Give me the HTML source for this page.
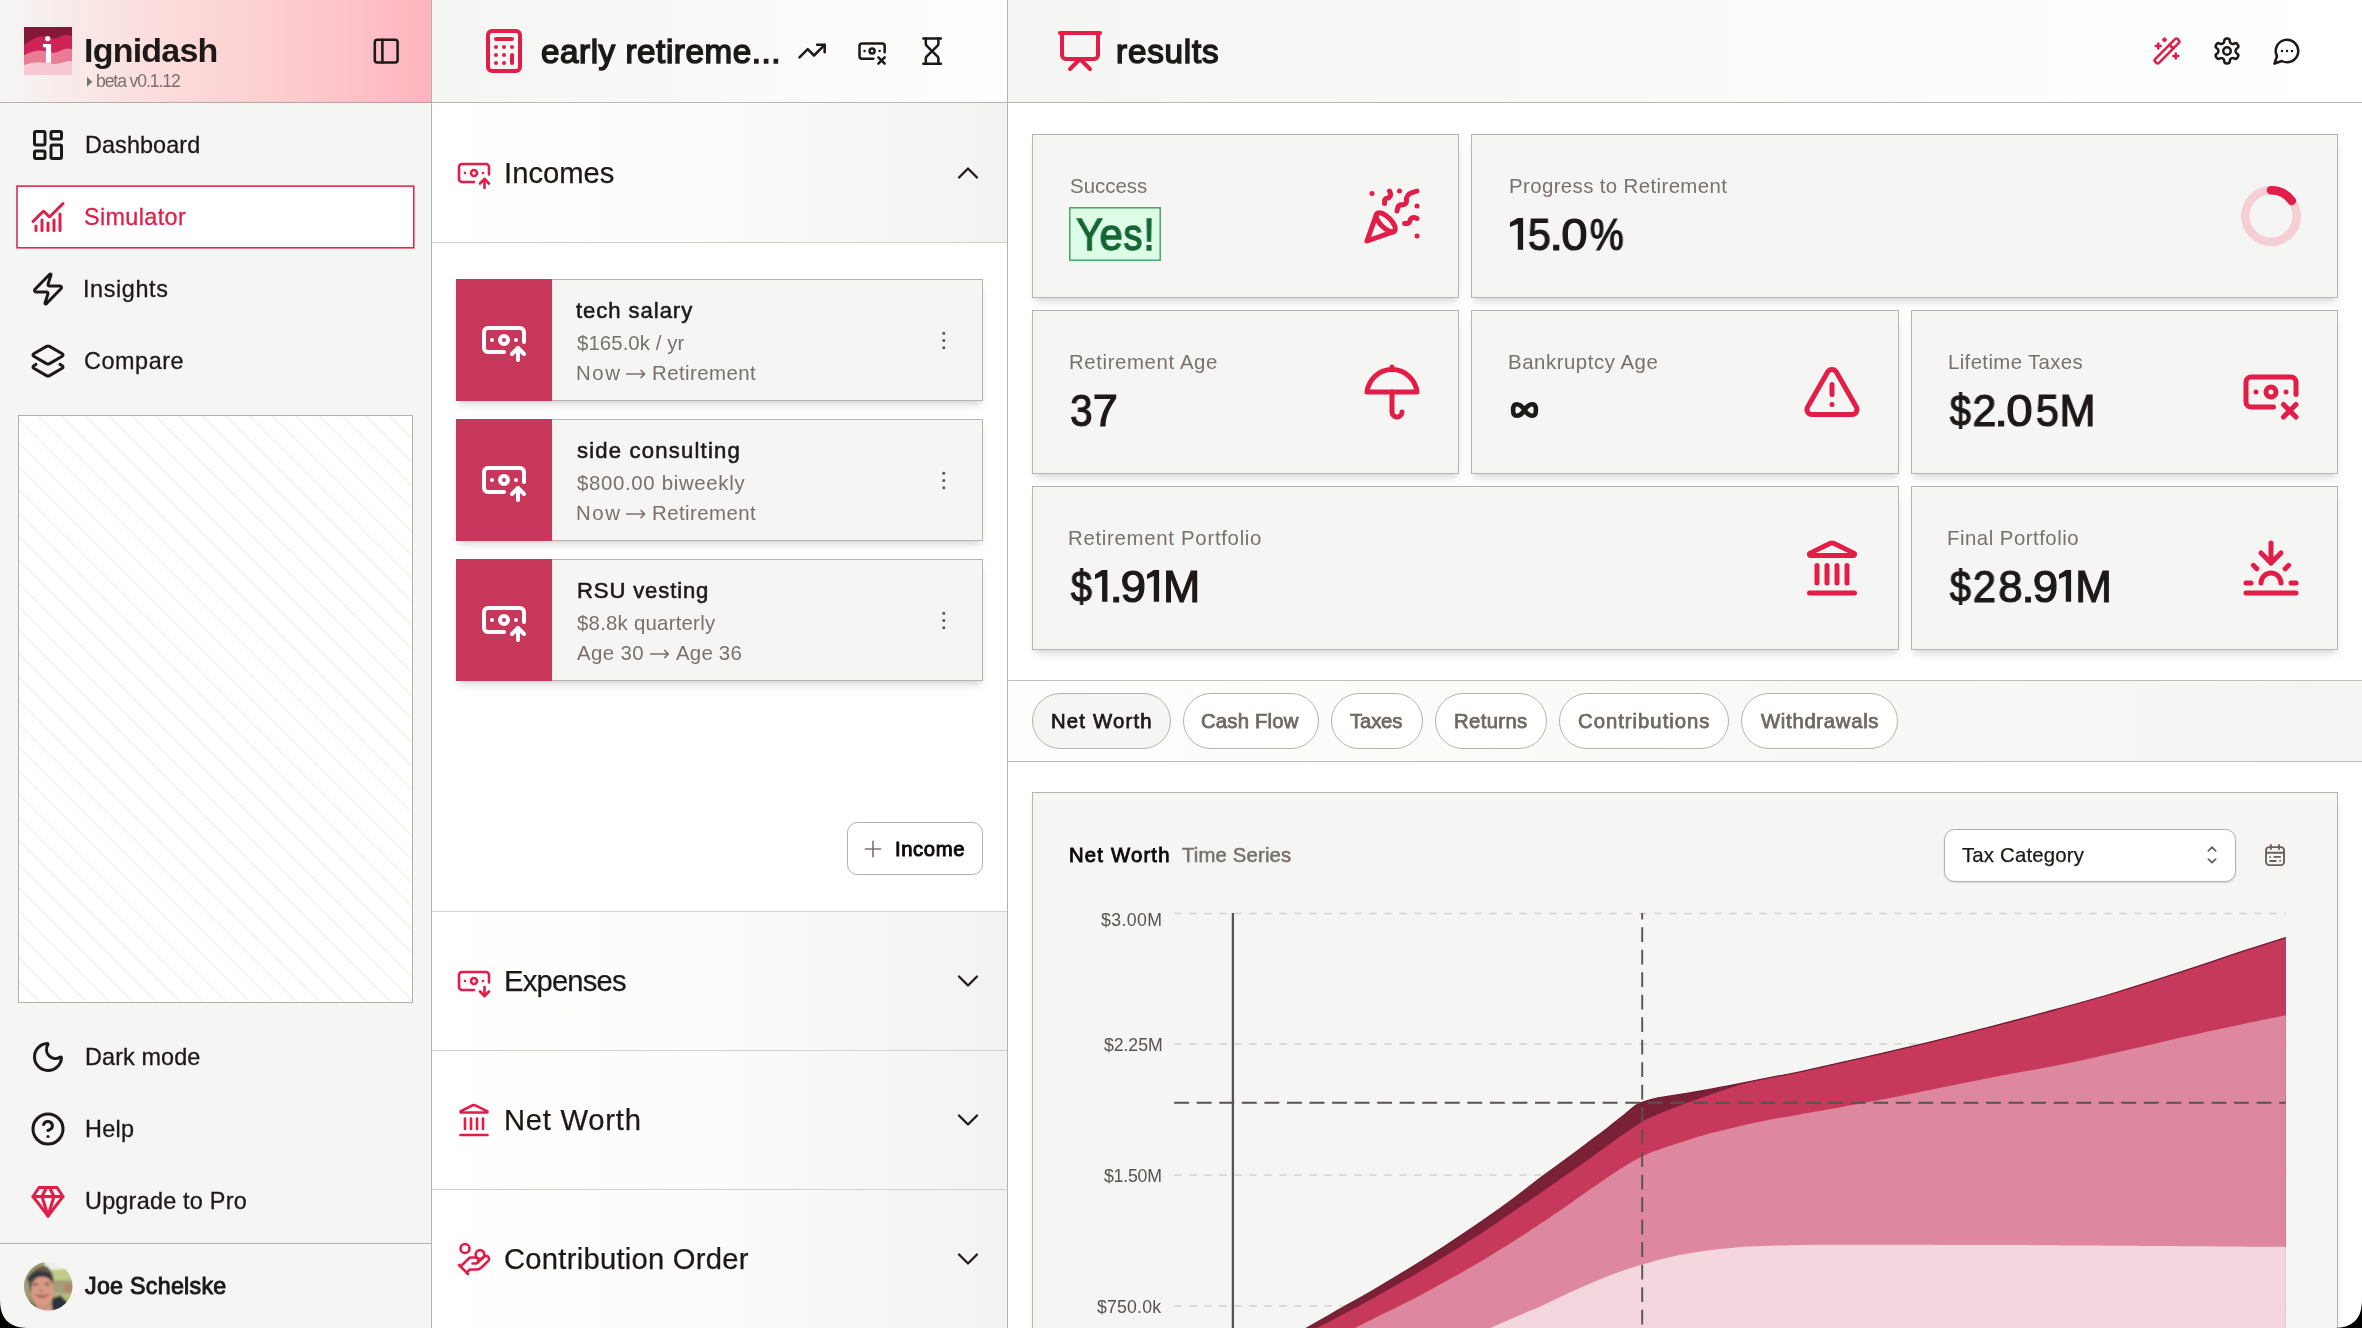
<!DOCTYPE html>
<html lang="en"><head><meta charset="utf-8"><title>Ignidash</title>
<style>
*{box-sizing:border-box;margin:0;padding:0}
html,body{width:2362px;height:1328px;overflow:hidden;background:#000}
body{font-family:"Liberation Sans",sans-serif;position:relative}
#app{position:absolute;left:0;top:0;width:2362px;height:1328px;overflow:hidden;background:#fff}
.t{position:absolute;white-space:nowrap;line-height:1;will-change:transform}
.b{position:absolute}
.i{position:absolute;overflow:visible}
.card{background:#f5f5f4;border:1px solid #b9b4b1;box-shadow:0 6px 9px -1.5px rgba(0,0,0,.11),0 3px 6px -3px rgba(0,0,0,.11)}
.pill{border:1px solid #b5b1ad;border-radius:28px;background:#fff}
</style></head><body><div id="app">

<div class="b" style="left:0px;top:0px;width:431px;height:1328px;background:#f5f5f4"></div>
<div class="b" style="left:0px;top:0px;width:431px;height:102px;background:linear-gradient(90deg,#f5f5f4 0%,#f7efee 10%,#fae4e3 25%,#fcd8d8 45%,#fdcdcf 65%,#fdc0c6 85%,#feb3bd 100%)"></div>
<div class="b" style="left:0px;top:102px;width:431px;height:1px;background:linear-gradient(90deg,#b5b3b0 0%,#b9aaa9 40%,#c3959b 100%)"></div>
<div class="b" style="left:431px;top:0px;width:1px;height:1328px;background:#b5b3b0"></div>
<svg class="i" style="left:24px;top:27px" width="48" height="48" viewBox="0 0 48 48">
<rect width="48" height="48" fill="#851839"/>
<path d="M0 17.9 C6 14 12 9.5 17.4 9.2 C22 9 25 11.8 29 11.6 C34 11.3 37 8 41.6 7.9 C44 7.9 46 8.4 48 9 L48 48 L0 48Z" fill="#cf2357"/>
<path d="M0 28.2 C5 26 10 23.6 14.8 23.5 C20 23.4 25 26 30 25.8 C35 25.6 39 21.7 43.8 21.6 C45.5 21.6 47 21.8 48 22.1 L48 48 L0 48Z" fill="#e97b95"/>
<path d="M0 38 C5 36.6 10 35.3 15.3 35.3 C21 35.3 26 37 31.1 36.9 C36 36.8 41 34 45.9 34 C46.8 34 47.5 34.1 48 34.3 L48 48 L0 48Z" fill="#f8c8d3"/>
<circle cx="23.7" cy="11.6" r="2.7" fill="#fff"/>
<path d="M19 17.1h8.1v18.7h-5.2v-15.5h-2.9z" fill="#fff"/>
</svg>
<div class="t" style="left:83.80px;top:33px;font-size:34px;color:#1c1917;font-weight:700;letter-spacing:-0.774px;">Ignidash</div>
<svg class="i" style="left:86.9px;top:76.6px" width="5.3" height="9.7" viewBox="0 0 5.3 9.7"><path d="M0 0L5.3 4.85L0 9.7Z" fill="#78716c"/></svg>
<div class="t" style="left:96.20px;top:73px;font-size:17.6px;color:#78716c;letter-spacing:-1.105px;">beta v0.1.12</div>
<svg class="i" style="left:370.85px;top:35.65px" width="30.4" height="30.4" viewBox="0 0 24 24" fill="none" stroke="#1c1917" stroke-width="2" stroke-linecap="round" stroke-linejoin="round" ><rect width="18" height="18" x="3" y="3" rx="2"/><path d="M9 3v18"/></svg>
<svg class="i" style="left:0;top:0" width="431" height="300"><rect x="17" y="186.1" width="396.8" height="61.7" fill="#fff" stroke="#e11d48" stroke-width="1.5"/></svg>
<svg class="i" style="left:30.00px;top:127.00px" width="36" height="36" viewBox="0 0 24 24" fill="none" stroke="#1c1917" stroke-width="2" stroke-linecap="round" stroke-linejoin="round" ><rect width="7" height="9" x="3" y="3" rx="1"/><rect width="7" height="5" x="14" y="3" rx="1"/><rect width="7" height="9" x="14" y="12" rx="1"/><rect width="7" height="5" x="3" y="16" rx="1"/></svg>
<div class="t" style="left:84.65px;top:134px;font-size:23.4px;color:#1c1917;letter-spacing:0.097px;-webkit-text-stroke:0.3px #1c1917;">Dashboard</div>
<svg class="i" style="left:30.00px;top:199.00px" width="36" height="36" viewBox="0 0 24 24" fill="none" stroke="#e11d48" stroke-width="2" stroke-linecap="round" stroke-linejoin="round" ><path d="M12 16v5"/><path d="M16 14v7"/><path d="M20 10v11"/><path d="m22 3-8.646 8.646a.5.5 0 0 1-.708 0L9.354 8.354a.5.5 0 0 0-.707 0L2 15"/><path d="M4 18v3"/><path d="M8 14v7"/></svg>
<div class="t" style="left:84.25px;top:206px;font-size:23.4px;color:#e11d48;letter-spacing:0.362px;-webkit-text-stroke:0.3px #e11d48;">Simulator</div>
<svg class="i" style="left:30.00px;top:271.00px" width="36" height="36" viewBox="0 0 24 24" fill="none" stroke="#1c1917" stroke-width="2" stroke-linecap="round" stroke-linejoin="round" ><path d="M4 14a1 1 0 0 1-.78-1.63l9.9-10.2a.5.5 0 0 1 .86.46l-1.92 6.02A1 1 0 0 0 13 10h7a1 1 0 0 1 .78 1.63l-9.9 10.2a.5.5 0 0 1-.86-.46l1.92-6.02A1 1 0 0 0 11 14z"/></svg>
<div class="t" style="left:83.25px;top:278px;font-size:23.4px;color:#1c1917;letter-spacing:0.612px;-webkit-text-stroke:0.3px #1c1917;">Insights</div>
<svg class="i" style="left:30.00px;top:343.00px" width="36" height="36" viewBox="0 0 24 24" fill="none" stroke="#1c1917" stroke-width="2" stroke-linecap="round" stroke-linejoin="round" ><path d="M13 13.74a2 2 0 0 1-2 0L2.5 8.87a1 1 0 0 1 0-1.74L11 2.26a2 2 0 0 1 2 0l8.5 4.87a1 1 0 0 1 0 1.74z"/><path d="m20 14.285 1.5.845a1 1 0 0 1 0 1.74L13 21.74a2 2 0 0 1-2 0l-8.5-4.87a1 1 0 0 1 0-1.74l1.5-.845"/></svg>
<div class="t" style="left:83.95px;top:350px;font-size:23.4px;color:#1c1917;letter-spacing:0.568px;-webkit-text-stroke:0.3px #1c1917;">Compare</div>
<div class="b" style="left:18px;top:415px;width:395px;height:588px;background:#fff;border:1px solid #b3afab"></div>
<svg class="i" style="left:19px;top:416px;overflow:hidden" width="393" height="586"><defs><pattern id="hp" width="23.4" height="23.4" patternUnits="userSpaceOnUse" patternTransform="translate(19.6 0)"><path d="M-1 -1L24.4 24.4" stroke="#f0efed" stroke-width="1.25"/></pattern></defs><rect width="393" height="586" fill="url(#hp)"/></svg>
<svg class="i" style="left:30.00px;top:1039.20px" width="36" height="36" viewBox="0 0 24 24" fill="none" stroke="#1c1917" stroke-width="2" stroke-linecap="round" stroke-linejoin="round" ><path d="M20.985 12.486a9 9 0 1 1-9.473-9.472c.405-.022.617.46.402.803a6 6 0 0 0 8.268 8.268c.344-.215.825-.004.803.401"/></svg>
<div class="t" style="left:84.65px;top:1046px;font-size:23.4px;color:#1c1917;letter-spacing:0.114px;-webkit-text-stroke:0.3px #1c1917;">Dark mode</div>
<svg class="i" style="left:30.00px;top:1110.90px" width="36" height="36" viewBox="0 0 24 24" fill="none" stroke="#1c1917" stroke-width="2" stroke-linecap="round" stroke-linejoin="round" ><circle cx="12" cy="12" r="10"/><path d="M9.09 9a3 3 0 0 1 5.83 1c0 2-3 3-3 3"/><path d="M12 17h.01"/></svg>
<div class="t" style="left:84.65px;top:1118px;font-size:23.4px;color:#1c1917;letter-spacing:0.268px;-webkit-text-stroke:0.3px #1c1917;">Help</div>
<svg class="i" style="left:30.00px;top:1183.10px" width="36" height="36" viewBox="0 0 24 24" fill="none" stroke="#e11d48" stroke-width="2" stroke-linecap="round" stroke-linejoin="round" ><path d="M6 3h12l4 6-10 13L2 9Z"/><path d="M11 3 8 9l4 13 4-13-3-6"/><path d="M2 9h20"/></svg>
<div class="t" style="left:84.65px;top:1190px;font-size:23.4px;color:#1c1917;letter-spacing:0.237px;-webkit-text-stroke:0.3px #1c1917;">Upgrade to Pro</div>
<div class="b" style="left:0px;top:1243px;width:431px;height:1px;background:#b5b3b0"></div>
<svg class="i" style="left:23.75px;top:1261.5px" width="48.5" height="48.5" viewBox="0 0 48 48">
<defs><clipPath id="av"><circle cx="24" cy="24" r="24"/></clipPath><filter id="avb" x="-10%" y="-10%" width="120%" height="120%"><feGaussianBlur stdDeviation="0.9"/></filter></defs>
<g clip-path="url(#av)"><g filter="url(#avb)">
<rect x="-4" y="-4" width="56" height="56" fill="#9a9568"/>
<rect x="20" y="-4" width="32" height="13" fill="#eef1ea"/>
<path d="M27 8 L50 6 L50 19 L28 19Z" fill="#c2cc8a"/>
<rect x="28" y="18" width="24" height="15" fill="#a59f78"/>
<rect x="40" y="22" width="10" height="8" fill="#b1866a"/>
<rect x="30" y="31" width="22" height="9" fill="#b3bb78"/>
<path d="M-2 14 L8 6 L20 0 L22 8 L8 20 L4 40 L-2 40Z" fill="#a29d74"/>
<path d="M4 18 C6 8 16 3 22 4 C26 6 29 12 29 18 L26 30 L6 30Z" fill="#625a47"/>
<ellipse cx="18.2" cy="29" rx="11.2" ry="15" fill="#d89a86"/>
<path d="M3 17 C6 10 12 9 17 9.5 C23 9.5 27 11 29.5 17 L28 18.5 C25 15 21 14.6 17 14.6 C12 14.6 8 15.5 5.5 20Z" fill="#30363f"/>
<ellipse cx="11.5" cy="22.3" rx="2.6" ry="1.1" fill="#6b4a42"/>
<ellipse cx="22.8" cy="21.8" rx="2.6" ry="1.1" fill="#6b4a42"/>
<path d="M16.5 24 L15 30 L19 30.5Z" fill="#c4806f"/>
<path d="M11.5 32.5 C15 36 21 36 24.5 32 C21 33.4 15 33.6 11.5 32.5Z" fill="#a8574f" stroke="#a8574f" stroke-width="0.8"/>
<path d="M28 36 L36 33 L44 41 L40 50 L27 50Z" fill="#2c323c"/>
<path d="M4 38 L12 44 L10 50 L2 50Z" fill="#2c323c"/>
<path d="M12 43 C16 46 22 46 27 41 L29 50 L12 50Z" fill="#d39583"/>
</g></g></svg>
<div class="t" style="left:85.07px;top:1275px;font-size:23.2px;color:#1c1917;letter-spacing:0.303px;-webkit-text-stroke:0.95px #1c1917;">Joe Schelske</div>
<div class="b" style="left:432px;top:0px;width:575px;height:102px;background:linear-gradient(90deg,#f5f5f4 0%,#f9f9f8 50%,#fefefe 100%)"></div>
<div class="b" style="left:432px;top:102px;width:575px;height:1px;background:#bcbab7"></div>
<div class="b" style="left:1007px;top:0px;width:1px;height:1328px;background:#b5b3b0"></div>
<svg class="i" style="left:480.10px;top:27.00px" width="48" height="48" viewBox="0 0 24 24" fill="none" stroke="#e11d48" stroke-width="2" stroke-linecap="round" stroke-linejoin="round" ><rect width="16" height="20" x="4" y="2" rx="2"/><line x1="8" x2="16" y1="6" y2="6"/><line x1="16" x2="16" y1="14" y2="18"/><path d="M16 10h.01"/><path d="M12 10h.01"/><path d="M8 10h.01"/><path d="M12 14h.01"/><path d="M8 14h.01"/><path d="M12 18h.01"/><path d="M8 18h.01"/></svg>
<div class="t" style="left:540.65px;top:35px;font-size:33.2px;color:#1c1917;letter-spacing:0.556px;-webkit-text-stroke:1.5px #1c1917;">early retireme...</div>
<svg class="i" style="left:797.10px;top:35.70px" width="30.2" height="30.2" viewBox="0 0 24 24" fill="none" stroke="#1c1917" stroke-width="2" stroke-linecap="round" stroke-linejoin="round" ><polyline points="22 7 13.5 15.5 8.5 10.5 2 17"/><polyline points="16 7 22 7 22 13"/></svg>
<svg class="i" style="left:857.10px;top:35.90px" width="30.2" height="30.2" viewBox="0 0 24 24" fill="none" stroke="#1c1917" stroke-width="2" stroke-linecap="round" stroke-linejoin="round" ><path d="M13 18H4a2 2 0 0 1-2-2V8a2 2 0 0 1 2-2h16a2 2 0 0 1 2 2v5"/><path d="m17 17 5 5"/><path d="M18 12h.01"/><path d="m22 17-5 5"/><path d="M6 12h.01"/><circle cx="12" cy="12" r="2"/></svg>
<svg class="i" style="left:917.10px;top:35.80px" width="30.2" height="30.2" viewBox="0 0 24 24" fill="none" stroke="#1c1917" stroke-width="2" stroke-linecap="round" stroke-linejoin="round" ><path d="M5 22h14"/><path d="M5 2h14"/><path d="M17 22v-4.172a2 2 0 0 0-.586-1.414L12 12l-4.414 4.414A2 2 0 0 0 7 17.828V22"/><path d="M7 2v4.172a2 2 0 0 0 .586 1.414L12 12l4.414-4.414A2 2 0 0 0 17 6.172V2"/></svg>
<div class="b" style="left:432px;top:103px;width:575px;height:139px;background:linear-gradient(90deg,#ffffff 0%,#fbfbfa 50%,#f2f2f0 100%)"></div>
<svg class="i" style="left:456.00px;top:155.15px" width="36" height="36" viewBox="0 0 24 24" fill="none" stroke="#e11d48" stroke-width="1.75" stroke-linecap="round" stroke-linejoin="round" ><path d="M12 18H4a2 2 0 0 1-2-2V8a2 2 0 0 1 2-2h16a2 2 0 0 1 2 2v5"/><path d="M18 12h.01"/><path d="M19 22v-6"/><path d="m22 19-3-3-3 3"/><path d="M6 12h.01"/><circle cx="12" cy="12" r="2"/></svg>
<div class="t" style="left:503.82px;top:159px;font-size:29.2px;color:#1c1917;letter-spacing:0.023px;-webkit-text-stroke:0.25px #1c1917;">Incomes</div>
<svg class="i" style="left:950.00px;top:154.95px" width="36" height="36" viewBox="0 0 24 24" fill="none" stroke="#1c1917" stroke-width="1.5" stroke-linecap="round" stroke-linejoin="round" ><path d="m18 15-6-6-6 6"/></svg>
<div class="b" style="left:432px;top:242px;width:575px;height:1px;background:#d4d2cf"></div>
<div class="b card" style="left:456px;top:279px;width:527px;height:122px"></div>
<div class="b" style="left:456px;top:279px;width:96px;height:122px;background:#c7375b"></div>
<svg class="i" style="left:480.00px;top:316.30px" width="48" height="48" viewBox="0 0 24 24" fill="none" stroke="#fff" stroke-width="2" stroke-linecap="round" stroke-linejoin="round" ><path d="M12 18H4a2 2 0 0 1-2-2V8a2 2 0 0 1 2-2h16a2 2 0 0 1 2 2v5"/><path d="M18 12h.01"/><path d="M19 22v-6"/><path d="m22 19-3-3-3 3"/><path d="M6 12h.01"/><circle cx="12" cy="12" r="2"/></svg>
<div class="t" style="left:576.48px;top:300px;font-size:22.1px;color:#1c1917;letter-spacing:0.936px;-webkit-text-stroke:0.55px #1c1917;">tech salary</div>
<div class="t" style="left:577.30px;top:333px;font-size:20.4px;color:#78716c;letter-spacing:0.068px;">$165.0k / yr</div>
<div class="t" style="left:576.00px;top:363px;font-size:20.4px;color:#78716c;letter-spacing:1.567px;">Now</div>
<div class="t" style="left:652.30px;top:363px;font-size:20.4px;color:#78716c;letter-spacing:0.449px;">Retirement</div>
<svg class="i" style="left:626.20px;top:368.30px" width="19.60" height="12" viewBox="0 0 19.60 12" fill="none" stroke="#78716c" stroke-width="1.5" stroke-linecap="round" stroke-linejoin="round"><path d="M0.7 6H18.70M15.00 2.4L18.70 6L15.00 9.6"/></svg>
<svg class="i" style="left:940px;top:329px" width="8" height="24" viewBox="0 0 8 24" fill="#57534e"><circle cx="3.8" cy="4.3" r="1.5"/><circle cx="3.8" cy="11.5" r="1.5"/><circle cx="3.8" cy="18.7" r="1.5"/></svg>
<div class="b card" style="left:456px;top:419px;width:527px;height:122px"></div>
<div class="b" style="left:456px;top:419px;width:96px;height:122px;background:#c7375b"></div>
<svg class="i" style="left:480.00px;top:456.30px" width="48" height="48" viewBox="0 0 24 24" fill="none" stroke="#fff" stroke-width="2" stroke-linecap="round" stroke-linejoin="round" ><path d="M12 18H4a2 2 0 0 1-2-2V8a2 2 0 0 1 2-2h16a2 2 0 0 1 2 2v5"/><path d="M18 12h.01"/><path d="M19 22v-6"/><path d="m22 19-3-3-3 3"/><path d="M6 12h.01"/><circle cx="12" cy="12" r="2"/></svg>
<div class="t" style="left:576.98px;top:440px;font-size:22.1px;color:#1c1917;letter-spacing:1.184px;-webkit-text-stroke:0.55px #1c1917;">side consulting</div>
<div class="t" style="left:577.30px;top:473px;font-size:20.4px;color:#78716c;letter-spacing:0.668px;">$800.00 biweekly</div>
<div class="t" style="left:576.00px;top:503px;font-size:20.4px;color:#78716c;letter-spacing:1.567px;">Now</div>
<div class="t" style="left:652.30px;top:503px;font-size:20.4px;color:#78716c;letter-spacing:0.449px;">Retirement</div>
<svg class="i" style="left:626.20px;top:508.30px" width="19.60" height="12" viewBox="0 0 19.60 12" fill="none" stroke="#78716c" stroke-width="1.5" stroke-linecap="round" stroke-linejoin="round"><path d="M0.7 6H18.70M15.00 2.4L18.70 6L15.00 9.6"/></svg>
<svg class="i" style="left:940px;top:469px" width="8" height="24" viewBox="0 0 8 24" fill="#57534e"><circle cx="3.8" cy="4.3" r="1.5"/><circle cx="3.8" cy="11.5" r="1.5"/><circle cx="3.8" cy="18.7" r="1.5"/></svg>
<div class="b card" style="left:456px;top:559px;width:527px;height:122px"></div>
<div class="b" style="left:456px;top:559px;width:96px;height:122px;background:#c7375b"></div>
<svg class="i" style="left:480.00px;top:596.30px" width="48" height="48" viewBox="0 0 24 24" fill="none" stroke="#fff" stroke-width="2" stroke-linecap="round" stroke-linejoin="round" ><path d="M12 18H4a2 2 0 0 1-2-2V8a2 2 0 0 1 2-2h16a2 2 0 0 1 2 2v5"/><path d="M18 12h.01"/><path d="M19 22v-6"/><path d="m22 19-3-3-3 3"/><path d="M6 12h.01"/><circle cx="12" cy="12" r="2"/></svg>
<div class="t" style="left:576.67px;top:580px;font-size:22.1px;color:#1c1917;letter-spacing:0.855px;-webkit-text-stroke:0.55px #1c1917;">RSU vesting</div>
<div class="t" style="left:577.40px;top:613px;font-size:20.4px;color:#78716c;letter-spacing:0.230px;">$8.8k quarterly</div>
<div class="t" style="left:576.60px;top:643px;font-size:20.4px;color:#78716c;letter-spacing:0.403px;">Age 30</div>
<div class="t" style="left:675.90px;top:643px;font-size:20.4px;color:#78716c;letter-spacing:0.223px;">Age 36</div>
<svg class="i" style="left:649.80px;top:648.30px" width="19.30" height="12" viewBox="0 0 19.30 12" fill="none" stroke="#78716c" stroke-width="1.5" stroke-linecap="round" stroke-linejoin="round"><path d="M0.7 6H18.40M14.70 2.4L18.40 6L14.70 9.6"/></svg>
<svg class="i" style="left:940px;top:609px" width="8" height="24" viewBox="0 0 8 24" fill="#57534e"><circle cx="3.8" cy="4.3" r="1.5"/><circle cx="3.8" cy="11.5" r="1.5"/><circle cx="3.8" cy="18.7" r="1.5"/></svg>
<div class="b" style="left:847px;top:822px;width:136px;height:53px;background:#fff;border:1px solid #b3aeaa;border-radius:10.5px"></div>
<svg class="i" style="left:863px;top:839px" width="20" height="20" viewBox="0 0 20 20" fill="none" stroke="#78716c" stroke-width="1.6" stroke-linecap="round"><path d="M2.4 10h15.2M10 2.3v15.4"/></svg>
<div class="t" style="left:895.48px;top:839px;font-size:20.3px;color:#0c0a09;letter-spacing:0.604px;-webkit-text-stroke:0.95px #0c0a09;">Income</div>
<div class="b" style="left:432px;top:911px;width:575px;height:1px;background:#d4d2cf"></div>
<div class="b" style="left:432px;top:912px;width:575px;height:138px;background:linear-gradient(90deg,#ffffff 0%,#fbfbfa 50%,#f2f2f0 100%)"></div>
<svg class="i" style="left:456.00px;top:962.90px" width="36" height="36" viewBox="0 0 24 24" fill="none" stroke="#e11d48" stroke-width="1.75" stroke-linecap="round" stroke-linejoin="round" ><path d="M12 18H4a2 2 0 0 1-2-2V8a2 2 0 0 1 2-2h16a2 2 0 0 1 2 2v5"/><path d="m16 19 3 3 3-3"/><path d="M18 12h.01"/><path d="M19 16v6"/><path d="M6 12h.01"/><circle cx="12" cy="12" r="2"/></svg>
<div class="t" style="left:504.02px;top:967px;font-size:29.2px;color:#1c1917;letter-spacing:-0.791px;-webkit-text-stroke:0.25px #1c1917;">Expenses</div>
<svg class="i" style="left:950.00px;top:962.70px" width="36" height="36" viewBox="0 0 24 24" fill="none" stroke="#1c1917" stroke-width="1.5" stroke-linecap="round" stroke-linejoin="round" ><path d="m6 9 6 6 6-6"/></svg>
<div class="b" style="left:432px;top:1050px;width:575px;height:1px;background:#d4d2cf"></div>
<div class="b" style="left:432px;top:1051px;width:575px;height:138px;background:linear-gradient(90deg,#ffffff 0%,#fbfbfa 50%,#f2f2f0 100%)"></div>
<svg class="i" style="left:456.00px;top:1102.10px" width="36" height="36" viewBox="0 0 24 24" fill="none" stroke="#e11d48" stroke-width="1.75" stroke-linecap="round" stroke-linejoin="round" ><path d="M10 18v-7"/><path d="M11.12 2.198a2 2 0 0 1 1.76.006l7.866 3.847c.476.233.31.949-.22.949H3.474c-.53 0-.695-.716-.22-.949z"/><path d="M14 18v-7"/><path d="M18 18v-7"/><path d="M3 22h18"/><path d="M6 18v-7"/></svg>
<div class="t" style="left:504.02px;top:1106px;font-size:29.2px;color:#1c1917;letter-spacing:0.755px;-webkit-text-stroke:0.25px #1c1917;">Net Worth</div>
<svg class="i" style="left:950.00px;top:1101.90px" width="36" height="36" viewBox="0 0 24 24" fill="none" stroke="#1c1917" stroke-width="1.5" stroke-linecap="round" stroke-linejoin="round" ><path d="m6 9 6 6 6-6"/></svg>
<div class="b" style="left:432px;top:1189px;width:575px;height:1px;background:#d4d2cf"></div>
<div class="b" style="left:432px;top:1190px;width:575px;height:138px;background:linear-gradient(90deg,#ffffff 0%,#fbfbfa 50%,#f2f2f0 100%)"></div>
<svg class="i" style="left:456.00px;top:1240.70px" width="36" height="36" viewBox="0 0 24 24" fill="none" stroke="#e11d48" stroke-width="1.75" stroke-linecap="round" stroke-linejoin="round" ><path d="M11 15h2a2 2 0 1 0 0-4h-3c-.6 0-1.1.2-1.4.6L3 17"/><path d="m7 21 1.6-1.4c.3-.4.8-.6 1.4-.6h4c1.1 0 2.1-.4 2.8-1.2l4.6-4.4a2 2 0 0 0-2.75-2.91l-4.2 3.9"/><path d="m2 16 6 6"/><circle cx="16" cy="9" r="2.9"/><circle cx="6" cy="5" r="3"/></svg>
<div class="t" style="left:504.12px;top:1245px;font-size:29.2px;color:#1c1917;letter-spacing:0.257px;-webkit-text-stroke:0.25px #1c1917;">Contribution Order</div>
<svg class="i" style="left:950.00px;top:1240.50px" width="36" height="36" viewBox="0 0 24 24" fill="none" stroke="#1c1917" stroke-width="1.5" stroke-linecap="round" stroke-linejoin="round" ><path d="m6 9 6 6 6-6"/></svg>
<div class="b" style="left:1008px;top:0px;width:1354px;height:102px;background:linear-gradient(90deg,#f5f5f4 0%,#f8f8f7 35%,#fcfcfc 70%,#ffffff 100%)"></div>
<div class="b" style="left:1008px;top:102px;width:1354px;height:1px;background:#bcbab7"></div>
<svg class="i" style="left:1056.00px;top:27.00px" width="48" height="48" viewBox="0 0 24 24" fill="none" stroke="#e11d48" stroke-width="2" stroke-linecap="round" stroke-linejoin="round" ><path d="M2 3h20"/><path d="M21 3v11a2 2 0 0 1-2 2H5a2 2 0 0 1-2-2V3"/><path d="m7 21 5-5 5 5"/></svg>
<div class="t" style="left:1116.25px;top:35px;font-size:33.2px;color:#1c1917;letter-spacing:0.824px;-webkit-text-stroke:1.5px #1c1917;">results</div>
<svg class="i" style="left:2152.00px;top:35.70px" width="30" height="30" viewBox="0 0 24 24" fill="none" stroke="#e11d48" stroke-width="2" stroke-linecap="round" stroke-linejoin="round" ><path d="m21.64 3.64-1.28-1.28a1.21 1.21 0 0 0-1.72 0L2.36 18.64a1.21 1.21 0 0 0 0 1.72l1.28 1.28a1.2 1.2 0 0 0 1.72 0L21.64 5.36a1.2 1.2 0 0 0 0-1.72"/><path d="m14 7 3 3"/><path d="M5 6v4"/><path d="M19 14v4"/><path d="M10 2v2"/><path d="M7 8H3"/><path d="M21 16h-4"/><path d="M11 3H9"/></svg>
<svg class="i" style="left:2211.60px;top:35.70px" width="30" height="30" viewBox="0 0 24 24" fill="none" stroke="#1c1917" stroke-width="2" stroke-linecap="round" stroke-linejoin="round" ><path d="M12.22 2h-.44a2 2 0 0 0-2 2v.18a2 2 0 0 1-1 1.73l-.43.25a2 2 0 0 1-2 0l-.15-.08a2 2 0 0 0-2.73.73l-.22.38a2 2 0 0 0 .73 2.73l.15.1a2 2 0 0 1 1 1.72v.51a2 2 0 0 1-1 1.74l-.15.09a2 2 0 0 0-.73 2.73l.22.38a2 2 0 0 0 2.73.73l.15-.08a2 2 0 0 1 2 0l.43.25a2 2 0 0 1 1 1.73V20a2 2 0 0 0 2 2h.44a2 2 0 0 0 2-2v-.18a2 2 0 0 1 1-1.73l.43-.25a2 2 0 0 1 2 0l.15.08a2 2 0 0 0 2.73-.73l.22-.39a2 2 0 0 0-.73-2.73l-.15-.08a2 2 0 0 1-1-1.74v-.5a2 2 0 0 1 1-1.74l.15-.09a2 2 0 0 0 .73-2.73l-.22-.38a2 2 0 0 0-2.73-.73l-.15.08a2 2 0 0 1-2 0l-.43-.25a2 2 0 0 1-1-1.73V4a2 2 0 0 0-2-2z"/><circle cx="12" cy="12" r="3"/></svg>
<svg class="i" style="left:2271.60px;top:35.80px" width="30" height="30" viewBox="0 0 24 24" fill="none" stroke="#1c1917" stroke-width="2" stroke-linecap="round" stroke-linejoin="round" ><path d="M7.9 20A9 9 0 1 0 4 16.1L2 22Z"/><path d="M8 12h.01"/><path d="M12 12h.01"/><path d="M16 12h.01"/></svg>
<div class="b card" style="left:1032px;top:134px;width:427px;height:164px"></div>
<div class="t" style="left:1070.00px;top:176px;font-size:20.4px;color:#78716c;letter-spacing:0.039px;">Success</div>
<svg class="i" style="left:1361.70px;top:186.00px" width="60" height="60" viewBox="0 0 24 24" fill="none" stroke="#e11d48" stroke-width="2" stroke-linecap="round" stroke-linejoin="round" ><path d="M5.8 11.3 2 22l10.7-3.79"/><path d="M4 3h.01"/><path d="M22 8h.01"/><path d="M15 2h.01"/><path d="M22 20h.01"/><path d="m22 2-2.24.75a2.9 2.9 0 0 0-1.96 3.12c.1.86-.57 1.63-1.45 1.63h-.38c-.86 0-1.6.6-1.76 1.44L14 10"/><path d="m22 13-.82-.33c-.86-.34-1.82.2-1.98 1.11c-.11.7-.72 1.22-1.43 1.22H17"/><path d="m11 2 .33.82c.34.86-.2 1.82-1.11 1.98C9.52 4.9 9 5.52 9 6.23V7"/><path d="M11 13c1.93 1.93 2.83 4.17 2 5-.83.83-3.07-.07-5-2-1.93-1.93-2.83-4.17-2-5 .83-.83 3.07.07 5 2Z"/></svg>
<svg class="i" style="left:1060px;top:200px" width="110" height="70"><rect x="9.8" y="7.8" width="90.4" height="52.4" fill="#dcfce7" stroke="#47a468" stroke-width="1.5"/></svg>
<div class="t" style="left:1074.65px;top:214.00px;font-size:43.6px;color:#166534;-webkit-text-stroke:1.4px #166534;transform-origin:14.50px 50%;transform:scaleX(0.905);">Y</div><div class="t" style="left:1099.20px;top:214.00px;font-size:43.6px;color:#166534;-webkit-text-stroke:1.4px #166534;transform-origin:12.00px 50%;transform:scaleX(0.957);">e</div><div class="t" style="left:1122.20px;top:214.00px;font-size:43.6px;color:#166534;-webkit-text-stroke:1.4px #166534;transform-origin:11.00px 50%;transform:scaleX(0.860);">s</div><div class="t" style="left:1143.20px;top:214.00px;font-size:43.6px;color:#166534;-webkit-text-stroke:1.4px #166534;transform-origin:6.00px 50%;transform:scaleX(0.892);">!</div>
<div class="b card" style="left:1471px;top:134px;width:867px;height:164px"></div>
<div class="t" style="left:1508.50px;top:176px;font-size:20.4px;color:#78716c;letter-spacing:0.391px;">Progress to Retirement</div>
<svg class="i" style="left:1509.70px;top:218.40px" width="13.10" height="31.80" viewBox="0 0 13.10 31.80"><path d="M13.10 0V31.80H7.80V5.90L0 9.10V4.40L7.80 0Z" fill="#1c1917"/></svg><div class="t" style="left:1526.90px;top:213.00px;font-size:44.5px;color:#1c1917;-webkit-text-stroke:1.2px #1c1917;transform-origin:12.00px 50%;transform:scaleX(0.931);">5</div><div class="t" style="left:1549.60px;top:213.00px;font-size:44.5px;color:#1c1917;-webkit-text-stroke:1.2px #1c1917;transform-origin:6.50px 50%;transform:scaleX(1.129);">.</div><div class="t" style="left:1562.45px;top:213.00px;font-size:44.5px;color:#1c1917;-webkit-text-stroke:1.2px #1c1917;transform-origin:12.50px 50%;transform:scaleX(1.062);">0</div><div class="t" style="left:1587.00px;top:213.00px;font-size:44.5px;color:#1c1917;-webkit-text-stroke:1.2px #1c1917;transform-origin:19.50px 50%;transform:scaleX(0.860);">%</div>
<svg class="i" style="left:2236.8px;top:181.5px" width="68" height="68" viewBox="0 0 68 68" fill="none">
<circle cx="34" cy="34" r="25.7" stroke="#f6cfd6" stroke-width="8.6"/>
<path d="M 34 8.3 A 25.7 25.7 0 0 1 54.79 18.89" stroke="#e11d48" stroke-width="8.6" stroke-linecap="round"/>
</svg>
<div class="b card" style="left:1032px;top:310px;width:427px;height:164px"></div>
<div class="t" style="left:1068.80px;top:352px;font-size:20.4px;color:#78716c;letter-spacing:0.605px;">Retirement Age</div>
<div class="t" style="left:1069.45px;top:389.00px;font-size:44.5px;color:#1c1917;-webkit-text-stroke:1.2px #1c1917;transform-origin:12.00px 50%;transform:scaleX(0.901);">3</div><div class="t" style="left:1092.55px;top:389.00px;font-size:44.5px;color:#1c1917;-webkit-text-stroke:1.2px #1c1917;transform-origin:12.50px 50%;transform:scaleX(1.014);">7</div>
<svg class="i" style="left:1361.70px;top:362.00px" width="60" height="60" viewBox="0 0 24 24" fill="none" stroke="#e11d48" stroke-width="2" stroke-linecap="round" stroke-linejoin="round" ><path d="M22 12a10.06 10.06 1 0 0-20 0Z"/><path d="M12 12v8a2 2 0 0 0 4 0"/><path d="M12 2v1"/></svg>
<div class="b card" style="left:1471px;top:310px;width:428px;height:164px"></div>
<div class="t" style="left:1508.40px;top:352px;font-size:20.4px;color:#78716c;letter-spacing:0.538px;">Bankruptcy Age</div>
<svg class="i" style="left:1801.70px;top:362.00px" width="60" height="60" viewBox="0 0 24 24" fill="none" stroke="#e11d48" stroke-width="2" stroke-linecap="round" stroke-linejoin="round" ><path d="m21.73 18-8-14a2 2 0 0 0-3.48 0l-8 14A2 2 0 0 0 4 21h16a2 2 0 0 0 1.73-3"/><path d="M12 9v4"/><path d="M12 17h.01"/></svg>
<svg class="i" style="left:1508px;top:398px" width="34" height="24" viewBox="0 0 34 24" fill="none" stroke="#1c1917" stroke-width="4.6"><path d="M16.5 12 C13.5 7.2 10.5 6.2 8.6 6.2 C5.4 6.2 5.1 9.2 5.1 12 C5.1 14.8 5.4 17.8 8.6 17.8 C10.5 17.8 13.5 16.8 16.5 12 C19.5 7.2 22.5 6.2 24.4 6.2 C27.6 6.2 27.9 9.2 27.9 12 C27.9 14.8 27.6 17.8 24.4 17.8 C22.5 17.8 19.5 16.8 16.5 12Z"/></svg>
<div class="b card" style="left:1911px;top:310px;width:427px;height:164px"></div>
<div class="t" style="left:1947.90px;top:352px;font-size:20.4px;color:#78716c;letter-spacing:0.367px;">Lifetime Taxes</div>
<div class="t" style="left:1947.80px;top:389.00px;font-size:44.5px;color:#1c1917;-webkit-text-stroke:1.2px #1c1917;transform-origin:12.50px 50%;transform:scaleX(0.860);">$</div><div class="t" style="left:1971.80px;top:389.00px;font-size:44.5px;color:#1c1917;-webkit-text-stroke:1.2px #1c1917;transform-origin:12.50px 50%;transform:scaleX(0.964);">2</div><div class="t" style="left:1994.95px;top:389.00px;font-size:44.5px;color:#1c1917;-webkit-text-stroke:1.2px #1c1917;transform-origin:6.50px 50%;transform:scaleX(1.113);">.</div><div class="t" style="left:2007.20px;top:389.00px;font-size:44.5px;color:#1c1917;-webkit-text-stroke:1.2px #1c1917;transform-origin:12.50px 50%;transform:scaleX(1.066);">0</div><div class="t" style="left:2034.90px;top:389.00px;font-size:44.5px;color:#1c1917;-webkit-text-stroke:1.2px #1c1917;transform-origin:12.00px 50%;transform:scaleX(0.931);">5</div><div class="t" style="left:2059.30px;top:389.00px;font-size:44.5px;color:#1c1917;-webkit-text-stroke:1.2px #1c1917;transform-origin:18.50px 50%;transform:scaleX(0.975);">M</div>
<svg class="i" style="left:2240.70px;top:362.00px" width="60" height="60" viewBox="0 0 24 24" fill="none" stroke="#e11d48" stroke-width="2" stroke-linecap="round" stroke-linejoin="round" ><path d="M13 18H4a2 2 0 0 1-2-2V8a2 2 0 0 1 2-2h16a2 2 0 0 1 2 2v5"/><path d="m17 17 5 5"/><path d="M18 12h.01"/><path d="m22 17-5 5"/><path d="M6 12h.01"/><circle cx="12" cy="12" r="2"/></svg>
<div class="b card" style="left:1032px;top:486px;width:867px;height:164px"></div>
<div class="t" style="left:1068.40px;top:528px;font-size:20.4px;color:#78716c;letter-spacing:0.697px;">Retirement Portfolio</div>
<div class="t" style="left:1069.10px;top:565.00px;font-size:44.5px;color:#1c1917;-webkit-text-stroke:1.2px #1c1917;transform-origin:12.50px 50%;transform:scaleX(0.860);">$</div><svg class="i" style="left:1094.90px;top:570.40px" width="12.40" height="31.80" viewBox="0 0 12.40 31.80"><path d="M12.40 0V31.80H7.10V5.90L0 9.10V4.40L7.10 0Z" fill="#1c1917"/></svg><div class="t" style="left:1109.55px;top:565.00px;font-size:44.5px;color:#1c1917;-webkit-text-stroke:1.2px #1c1917;transform-origin:6.50px 50%;transform:scaleX(1.081);">.</div><div class="t" style="left:1120.85px;top:565.00px;font-size:44.5px;color:#1c1917;-webkit-text-stroke:1.2px #1c1917;transform-origin:12.50px 50%;transform:scaleX(1.032);">9</div><svg class="i" style="left:1147.30px;top:570.40px" width="12.10" height="31.80" viewBox="0 0 12.10 31.80"><path d="M12.10 0V31.80H6.80V5.90L0 9.10V4.40L6.80 0Z" fill="#1c1917"/></svg><div class="t" style="left:1162.80px;top:565.00px;font-size:44.5px;color:#1c1917;-webkit-text-stroke:1.2px #1c1917;transform-origin:18.50px 50%;transform:scaleX(1.006);">M</div>
<svg class="i" style="left:1801.70px;top:538.00px" width="60" height="60" viewBox="0 0 24 24" fill="none" stroke="#e11d48" stroke-width="2" stroke-linecap="round" stroke-linejoin="round" ><path d="M10 18v-7"/><path d="M11.12 2.198a2 2 0 0 1 1.76.006l7.866 3.847c.476.233.31.949-.22.949H3.474c-.53 0-.695-.716-.22-.949z"/><path d="M14 18v-7"/><path d="M18 18v-7"/><path d="M3 22h18"/><path d="M6 18v-7"/></svg>
<div class="b card" style="left:1911px;top:486px;width:427px;height:164px"></div>
<div class="t" style="left:1946.80px;top:528px;font-size:20.4px;color:#78716c;letter-spacing:0.491px;">Final Portfolio</div>
<div class="t" style="left:1948.10px;top:565.00px;font-size:44.5px;color:#1c1917;-webkit-text-stroke:1.2px #1c1917;transform-origin:12.50px 50%;transform:scaleX(0.860);">$</div><div class="t" style="left:1971.95px;top:565.00px;font-size:44.5px;color:#1c1917;-webkit-text-stroke:1.2px #1c1917;transform-origin:12.50px 50%;transform:scaleX(0.941);">2</div><div class="t" style="left:1998.20px;top:565.00px;font-size:44.5px;color:#1c1917;-webkit-text-stroke:1.2px #1c1917;transform-origin:12.00px 50%;transform:scaleX(0.983);">8</div><div class="t" style="left:2021.60px;top:565.00px;font-size:44.5px;color:#1c1917;-webkit-text-stroke:1.2px #1c1917;transform-origin:6.50px 50%;transform:scaleX(1.065);">.</div><div class="t" style="left:2032.60px;top:565.00px;font-size:44.5px;color:#1c1917;-webkit-text-stroke:1.2px #1c1917;transform-origin:12.50px 50%;transform:scaleX(1.027);">9</div><svg class="i" style="left:2059.10px;top:570.40px" width="12.10" height="31.80" viewBox="0 0 12.10 31.80"><path d="M12.10 0V31.80H6.80V5.90L0 9.10V4.40L6.80 0Z" fill="#1c1917"/></svg><div class="t" style="left:2074.90px;top:565.00px;font-size:44.5px;color:#1c1917;-webkit-text-stroke:1.2px #1c1917;transform-origin:18.50px 50%;transform:scaleX(0.988);">M</div>
<svg class="i" style="left:2240.70px;top:538.00px" width="60" height="60" viewBox="0 0 24 24" fill="none" stroke="#e11d48" stroke-width="2" stroke-linecap="round" stroke-linejoin="round" ><path d="M12 10V2"/><path d="m4.93 10.93 1.41 1.41"/><path d="M2 18h2"/><path d="M20 18h2"/><path d="m19.07 10.93-1.41 1.41"/><path d="M22 22H2"/><path d="m16 6-4 4-4-4"/><path d="M16 18a4 4 0 0 0-8 0"/></svg>
<div class="b" style="left:1008px;top:680px;width:1354px;height:82px;background:linear-gradient(90deg,#fefefe 0%,#f9f9f8 50%,#f4f4f3 100%);border-top:1px solid #c2bfbb;border-bottom:1px solid #c2bfbb"></div>
<div class="b pill" style="left:1032px;top:693px;width:139px;height:56px;background:#f5f5f4"></div>
<div class="t" style="left:1051.47px;top:711px;font-size:20.3px;color:#1c1917;letter-spacing:1.201px;-webkit-text-stroke:0.75px #1c1917;">Net Worth</div>
<div class="b pill" style="left:1183px;top:693px;width:136px;height:56px;background:#fff"></div>
<div class="t" style="left:1201.47px;top:711px;font-size:20.3px;color:#6f6963;letter-spacing:0.187px;-webkit-text-stroke:0.75px #6f6963;">Cash Flow</div>
<div class="b pill" style="left:1331px;top:693px;width:92px;height:56px;background:#fff"></div>
<div class="t" style="left:1350.47px;top:711px;font-size:20.3px;color:#6f6963;letter-spacing:-0.147px;-webkit-text-stroke:0.75px #6f6963;">Taxes</div>
<div class="b pill" style="left:1435px;top:693px;width:112px;height:56px;background:#fff"></div>
<div class="t" style="left:1453.88px;top:711px;font-size:20.3px;color:#6f6963;letter-spacing:0.363px;-webkit-text-stroke:0.75px #6f6963;">Returns</div>
<div class="b pill" style="left:1559px;top:693px;width:170px;height:56px;background:#fff"></div>
<div class="t" style="left:1577.67px;top:711px;font-size:20.3px;color:#6f6963;letter-spacing:0.999px;-webkit-text-stroke:0.75px #6f6963;">Contributions</div>
<div class="b pill" style="left:1741px;top:693px;width:157px;height:56px;background:#fff"></div>
<div class="t" style="left:1760.58px;top:711px;font-size:20.3px;color:#6f6963;letter-spacing:0.704px;-webkit-text-stroke:0.75px #6f6963;">Withdrawals</div>
<div class="b card" style="left:1032px;top:792px;width:1306px;height:608px"></div>
<div class="t" style="left:1069.42px;top:845px;font-size:20.3px;color:#0c0a09;letter-spacing:1.189px;-webkit-text-stroke:0.85px #0c0a09;">Net Worth</div>
<div class="t" style="left:1182.48px;top:845px;font-size:20.3px;color:#78716c;letter-spacing:0.175px;-webkit-text-stroke:0.55px #78716c;">Time Series</div>
<div class="b" style="left:1944px;top:829px;width:292px;height:53px;background:#fff;border:1px solid #b3aeaa;border-radius:10.5px;box-shadow:0 1px 2px rgba(0,0,0,.12)"></div>
<div class="t" style="left:1962.12px;top:845px;font-size:20.4px;color:#1c1917;letter-spacing:0.165px;-webkit-text-stroke:0.25px #1c1917;">Tax Category</div>
<svg class="i" style="left:2200px;top:840px" width="24" height="30" viewBox="0 0 24 30" fill="none" stroke="#6b625c" stroke-width="1.8" stroke-linecap="round" stroke-linejoin="round"><path d="M8.4 10.8L12 7.2L15.6 10.8"/><path d="M8.4 19.1L12 22.7L15.6 19.1"/></svg>
<svg class="i" style="left:2264px;top:843px" width="24" height="25" viewBox="0 0 24 25" fill="none" stroke="#6b625c" stroke-width="1.9" stroke-linecap="round" stroke-linejoin="round"><rect x="2.05" y="4.1" width="18" height="18" rx="3.2"/><path d="M6.9 1.9V6M15 1.9V6M2.05 9.8H20.05"/><path d="M6.05 13.9H6.06M10.3 13.9H16.1M6.1 18H11.7M16.1 18H16.11"/></svg>
<svg class="i" style="left:0;top:0" width="2362" height="1328" viewBox="0 0 2362 1328"><line x1="1174.2" x2="2286" y1="913.4" y2="913.4" stroke="#d5d2cf" stroke-width="1.5" stroke-dasharray="7.6 7.4"/><line x1="1174.2" x2="2286" y1="1044.0" y2="1044.0" stroke="#d5d2cf" stroke-width="1.5" stroke-dasharray="7.6 7.4"/><line x1="1174.2" x2="2286" y1="1175.1" y2="1175.1" stroke="#d5d2cf" stroke-width="1.5" stroke-dasharray="7.6 7.4"/><line x1="1174.2" x2="2286" y1="1305.9" y2="1305.9" stroke="#d5d2cf" stroke-width="1.5" stroke-dasharray="7.6 7.4"/><path d="M1298.7 1332.6 C1300.0 1331.8 1300.2 1331.7 1306.7 1328.0 C1313.2 1324.3 1326.5 1316.7 1337.6 1310.4 C1348.7 1304.1 1361.4 1297.1 1373.3 1290.2 C1385.2 1283.3 1397.1 1276.1 1409.0 1268.8 C1420.9 1261.5 1432.8 1253.9 1444.7 1246.2 C1456.6 1238.5 1468.5 1230.6 1480.4 1222.4 C1492.3 1214.2 1506.2 1204.2 1516.1 1196.8 C1526.0 1189.4 1532.2 1184.0 1540.0 1178.2 C1547.8 1172.4 1555.1 1167.3 1562.6 1161.8 C1570.1 1156.2 1577.7 1150.6 1585.2 1144.9 C1592.7 1139.2 1601.2 1133.0 1607.8 1127.9 C1614.4 1122.8 1620.0 1118.2 1624.7 1114.4 C1629.4 1110.6 1633.1 1107.3 1636.0 1105.3 C1638.9 1103.3 1639.4 1103.3 1642.2 1102.3 C1645.0 1101.3 1649.2 1100.0 1652.9 1099.1 C1656.6 1098.2 1658.6 1097.8 1664.2 1096.9 C1669.8 1096.0 1679.3 1094.7 1686.8 1093.5 C1694.3 1092.3 1701.9 1090.9 1709.4 1089.5 C1716.9 1088.1 1724.5 1086.7 1732.0 1085.2 C1739.5 1083.7 1747.1 1082.2 1754.6 1080.7 C1762.1 1079.2 1769.6 1077.7 1777.2 1076.2 C1784.8 1074.7 1785.6 1074.9 1800.0 1071.8 C1814.4 1068.7 1842.3 1062.4 1863.5 1057.6 C1884.7 1052.8 1905.8 1047.9 1927.0 1042.8 C1948.2 1037.7 1969.3 1032.4 1990.5 1026.9 C2011.7 1021.4 2032.8 1015.8 2054.0 1010.0 C2075.2 1004.2 2096.3 998.4 2117.5 992.0 C2138.7 985.6 2159.8 978.8 2181.0 971.9 C2202.2 965.0 2227.0 956.4 2244.5 950.7 C2262.0 945.0 2278.9 939.8 2285.8 937.6 L2285.8 1340 L1298.7 1340Z" fill="#7a2138"/><path d="M1308.8 1332.2 C1310.1 1331.5 1310.0 1331.5 1316.8 1328.0 C1323.6 1324.5 1338.1 1317.1 1349.5 1311.0 C1360.9 1304.9 1373.3 1298.1 1385.2 1291.4 C1397.1 1284.8 1409.0 1278.1 1420.9 1271.1 C1432.8 1264.0 1444.7 1256.6 1456.6 1249.1 C1468.5 1241.6 1480.4 1233.8 1492.3 1225.9 C1504.2 1218.0 1520.0 1206.9 1528.0 1201.5 C1536.0 1196.1 1534.2 1197.4 1540.0 1193.4 C1545.8 1189.4 1555.1 1182.9 1562.6 1177.6 C1570.1 1172.3 1577.7 1167.2 1585.2 1161.8 C1592.7 1156.4 1601.2 1150.1 1607.8 1145.4 C1614.4 1140.7 1619.0 1137.5 1624.7 1133.6 C1630.4 1129.6 1637.5 1124.5 1642.2 1121.7 C1646.9 1118.9 1649.2 1118.2 1652.9 1116.6 C1656.6 1114.9 1658.6 1114.0 1664.2 1111.8 C1669.8 1109.5 1679.3 1105.9 1686.8 1103.1 C1694.3 1100.3 1701.9 1097.6 1709.4 1095.0 C1716.9 1092.4 1725.4 1089.4 1732.0 1087.3 C1738.6 1085.2 1743.4 1083.7 1748.9 1082.2 C1754.4 1080.8 1760.3 1079.6 1765.0 1078.6 C1769.7 1077.6 1771.4 1077.3 1777.2 1076.2 C1783.0 1075.1 1785.6 1074.9 1800.0 1071.8 C1814.4 1068.7 1842.3 1062.4 1863.5 1057.6 C1884.7 1052.8 1905.8 1047.9 1927.0 1042.8 C1948.2 1037.7 1969.3 1032.4 1990.5 1026.9 C2011.7 1021.4 2032.8 1015.8 2054.0 1010.0 C2075.2 1004.2 2096.3 998.4 2117.5 992.0 C2138.7 985.6 2159.8 978.8 2181.0 971.9 C2202.2 965.0 2227.0 956.4 2244.5 950.7 C2262.0 945.0 2278.9 939.8 2285.8 937.6 L2285.8 1340 L1308.8 1340Z" fill="#c7395c"/><path d="M1346.9 1332.0 C1348.2 1331.3 1348.5 1331.2 1354.9 1328.0 C1361.3 1324.8 1374.2 1318.3 1385.2 1312.8 C1396.2 1307.3 1409.0 1301.2 1420.9 1294.9 C1432.8 1288.7 1444.7 1282.0 1456.6 1275.3 C1468.5 1268.6 1480.4 1261.7 1492.3 1254.5 C1504.2 1247.3 1516.7 1239.2 1528.0 1231.9 C1539.3 1224.6 1552.2 1215.8 1560.0 1210.5 C1567.8 1205.2 1568.9 1204.2 1575.0 1200.0 C1581.1 1195.8 1589.2 1190.0 1596.5 1185.0 C1603.8 1180.0 1611.4 1174.5 1619.0 1169.7 C1626.6 1164.9 1634.7 1159.9 1642.2 1156.2 C1649.7 1152.5 1656.8 1150.3 1664.2 1147.7 C1671.6 1145.1 1679.3 1142.8 1686.8 1140.4 C1694.3 1138.1 1701.9 1135.7 1709.4 1133.6 C1716.9 1131.5 1724.5 1129.7 1732.0 1127.9 C1739.5 1126.1 1747.1 1124.4 1754.6 1122.8 C1762.1 1121.2 1769.6 1119.7 1777.2 1118.3 C1784.8 1116.9 1785.6 1116.9 1800.0 1114.4 C1814.4 1111.9 1842.3 1107.1 1863.5 1103.1 C1884.7 1099.1 1905.8 1094.6 1927.0 1090.4 C1948.2 1086.2 1969.3 1081.8 1990.5 1077.7 C2011.7 1073.7 2032.8 1070.3 2054.0 1066.1 C2075.2 1061.9 2096.3 1057.1 2117.5 1052.3 C2138.7 1047.5 2159.8 1042.3 2181.0 1037.5 C2202.2 1032.7 2227.0 1027.4 2244.5 1023.7 C2262.0 1020.0 2278.9 1016.7 2285.8 1015.3 L2285.8 1340 L1346.9 1340Z" fill="#dd889e"/><path d="M1481.9 1331.4 C1483.2 1330.9 1482.2 1331.3 1489.9 1328.0 C1497.6 1324.7 1519.7 1315.1 1528.0 1311.6 C1536.3 1308.0 1533.8 1309.5 1540.0 1306.7 C1546.2 1303.9 1556.9 1298.5 1565.4 1294.6 C1573.9 1290.7 1582.3 1286.8 1590.8 1283.2 C1599.3 1279.6 1607.6 1276.1 1616.2 1273.0 C1624.8 1269.9 1633.7 1267.0 1642.2 1264.5 C1650.7 1262.0 1658.6 1259.8 1667.0 1257.8 C1675.4 1255.8 1683.9 1254.1 1692.4 1252.7 C1700.9 1251.3 1709.3 1250.3 1717.8 1249.3 C1726.3 1248.3 1734.7 1247.3 1743.2 1246.7 C1751.7 1246.1 1760.1 1246.0 1768.6 1245.7 C1777.1 1245.5 1782.1 1245.4 1794.0 1245.2 C1805.9 1245.0 1802.0 1244.7 1840.0 1244.7 C1878.0 1244.7 1947.7 1244.8 2022.0 1245.1 C2096.3 1245.4 2241.8 1246.5 2285.8 1246.8 L2285.8 1340 L1481.9 1340Z" fill="#f4d6de"/><path d="M1298.7 1332.6 C1300.0 1331.8 1300.2 1331.7 1306.7 1328.0 C1313.2 1324.3 1326.5 1316.7 1337.6 1310.4 C1348.7 1304.1 1361.4 1297.1 1373.3 1290.2 C1385.2 1283.3 1397.1 1276.1 1409.0 1268.8 C1420.9 1261.5 1432.8 1253.9 1444.7 1246.2 C1456.6 1238.5 1468.5 1230.6 1480.4 1222.4 C1492.3 1214.2 1506.2 1204.2 1516.1 1196.8 C1526.0 1189.4 1532.2 1184.0 1540.0 1178.2 C1547.8 1172.4 1555.1 1167.3 1562.6 1161.8 C1570.1 1156.2 1577.7 1150.6 1585.2 1144.9 C1592.7 1139.2 1601.2 1133.0 1607.8 1127.9 C1614.4 1122.8 1620.0 1118.2 1624.7 1114.4 C1629.4 1110.6 1633.1 1107.3 1636.0 1105.3 C1638.9 1103.3 1639.4 1103.3 1642.2 1102.3 C1645.0 1101.3 1649.2 1100.0 1652.9 1099.1 C1656.6 1098.2 1658.6 1097.8 1664.2 1096.9 C1669.8 1096.0 1679.3 1094.7 1686.8 1093.5 C1694.3 1092.3 1701.9 1090.9 1709.4 1089.5 C1716.9 1088.1 1724.5 1086.7 1732.0 1085.2 C1739.5 1083.7 1747.1 1082.2 1754.6 1080.7 C1762.1 1079.2 1769.6 1077.7 1777.2 1076.2 C1784.8 1074.7 1785.6 1074.9 1800.0 1071.8 C1814.4 1068.7 1842.3 1062.4 1863.5 1057.6 C1884.7 1052.8 1905.8 1047.9 1927.0 1042.8 C1948.2 1037.7 1969.3 1032.4 1990.5 1026.9 C2011.7 1021.4 2032.8 1015.8 2054.0 1010.0 C2075.2 1004.2 2096.3 998.4 2117.5 992.0 C2138.7 985.6 2159.8 978.8 2181.0 971.9 C2202.2 965.0 2227.0 956.4 2244.5 950.7 C2262.0 945.0 2278.9 939.8 2285.8 937.6" fill="none" stroke="#6e1d32" stroke-width="1.3"/><line x1="1232.9" x2="1232.9" y1="913" y2="1330" stroke="#57534e" stroke-width="2.3"/><line x1="1642.2" x2="1642.2" y1="913" y2="1330" stroke="#57534e" stroke-width="1.9" stroke-dasharray="14.8 7.7" stroke-dashoffset="8.3"/><line x1="1174.2" x2="2285.8" y1="1102.8" y2="1102.8" stroke="#57534e" stroke-width="1.9" stroke-dasharray="14.9 7.65"/></svg>
<div class="t" style="left:1101.30px;top:912px;font-size:17.7px;color:#57534e;letter-spacing:0.408px;">$3.00M</div>
<div class="t" style="left:1103.70px;top:1037px;font-size:17.7px;color:#57534e;letter-spacing:-0.072px;">$2.25M</div>
<div class="t" style="left:1104.40px;top:1168px;font-size:17.7px;color:#57534e;letter-spacing:-0.212px;">$1.50M</div>
<div class="t" style="left:1097.40px;top:1299px;font-size:17.7px;color:#57534e;letter-spacing:0.184px;">$750.0k</div>
<svg class="i" style="left:0;top:1297px" width="31" height="31" viewBox="0 0 31 31"><path d="M0 0 L0.00 0.00 L0.05 4.11 L0.20 6.86 L0.44 9.24 L0.79 11.39 L1.23 13.37 L1.77 15.22 L2.40 16.94 L3.13 18.55 L3.96 20.06 L4.88 21.46 L5.90 22.77 L7.02 23.98 L8.23 25.10 L9.54 26.12 L10.94 27.04 L12.45 27.87 L14.06 28.60 L15.78 29.23 L17.63 29.77 L19.61 30.21 L21.76 30.56 L24.14 30.80 L26.89 30.95 L31.00 31.00 L0 31Z" fill="#000"/></svg>
<svg class="i" style="left:2331px;top:1297px" width="31" height="31" viewBox="0 0 31 31"><g transform="translate(31 0) scale(-1 1)"><path d="M0 0 L0.00 0.00 L0.05 4.11 L0.20 6.86 L0.44 9.24 L0.79 11.39 L1.23 13.37 L1.77 15.22 L2.40 16.94 L3.13 18.55 L3.96 20.06 L4.88 21.46 L5.90 22.77 L7.02 23.98 L8.23 25.10 L9.54 26.12 L10.94 27.04 L12.45 27.87 L14.06 28.60 L15.78 29.23 L17.63 29.77 L19.61 30.21 L21.76 30.56 L24.14 30.80 L26.89 30.95 L31.00 31.00 L0 31Z" fill="#000"/></g></svg>
</div></body></html>
